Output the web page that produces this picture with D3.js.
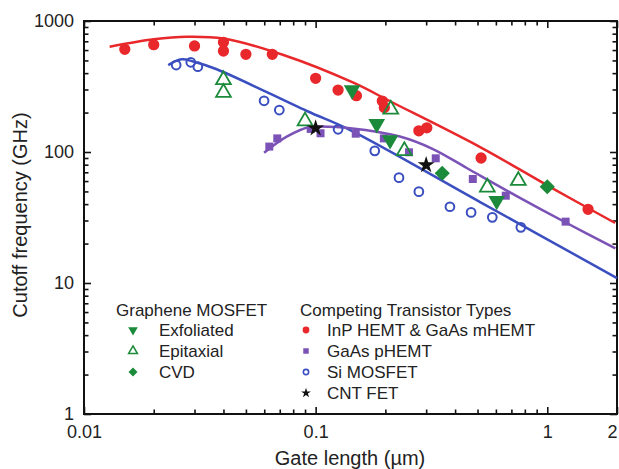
<!DOCTYPE html>
<html>
<head>
<meta charset="utf-8">
<script src="https://cdn.jsdelivr.net/npm/d3@7"></script>
<style>
  body { margin: 0; background: #fff; }
  svg text { font-family: "Liberation Sans", Arial, sans-serif; fill: #222; }
</style>
</head>
<body>
<div id="wrapper"></div>
<script>
// data: gate length (um) vs cutoff frequency (GHz)
const inpX = [0.015, 0.02, 0.03, 0.04, 0.04, 0.05, 0.065, 0.1, 0.125, 0.15, 0.194, 0.198, 0.279, 0.302, 0.518, 1.5];
const inpY = [608, 659, 645, 688, 590, 557, 557, 365, 297, 269, 245, 219, 145, 153, 90, 36.5];
const phemtX = [0.0631, 0.0683, 0.0952, 0.105, 0.149, 0.197, 0.253, 0.33, 0.477, 0.662, 1.2];
const phemtY = [110, 127, 150, 139, 138, 127, 99.5, 89.5, 62.2, 46.4, 29.4];
const siX = [0.025, 0.0289, 0.031, 0.0599, 0.0697, 0.125, 0.18, 0.229, 0.279, 0.38, 0.469, 0.579, 0.769];
const siY = [461, 484, 448, 246, 209, 149, 102, 63.7, 49.8, 38.2, 34.6, 31.7, 26.6];
const cntX = [0.1, 0.3];
const cntY = [152, 79.6];
const exfX = [0.1437, 0.1836, 0.2096, 0.605];
const exfY = [297, 164, 123.5, 42.5];
const epiX = [0.04, 0.04, 0.09, 0.211, 0.2415, 0.551, 0.75];
const epiY = [355, 284, 172, 212, 102, 53.8, 60.4];
const cvdX = [0.352, 1.0];
const cvdY = [68.8, 54.3];

// trend curves
const inpFitX = [0.0129, 0.02, 0.0278, 0.04, 0.0726, 0.1455, 0.2095, 0.513, 1.049, 1.963];
const inpFitY = [637, 725, 759, 735, 550, 338, 244, 109, 53, 28.7];
const siFitX = [0.0231, 0.0264, 0.0296, 0.0374, 0.0916, 0.141, 0.513, 2.0];
const siFitY = [461, 510, 491, 428, 205.6, 147, 41.5, 10.9];
const phemtFitX = [0.0599, 0.075, 0.0946, 0.1045, 0.141, 0.231, 0.321, 0.449, 0.738, 1.213, 1.969];
const phemtFitY = [98.8, 131, 156, 156.6, 152, 131.3, 105.4, 75.5, 46.1, 28.7, 18.4];

const xTicks = [0.01, 0.1, 1, 2];
const xTickLabels = ["0.01", "0.1", "1", "2"];
const yTicks = [1, 10, 100, 1000];

const red = "#e8282a", purple = "#7b52b6", blue = "#3b4fc0", green = "#1b8a3a";

const width = 619, height = 469;
const dimension = { left: 84, right: 617, top: 21, bottom: 414 };

const svg = d3.select("#wrapper").append("svg")
    .attr("width", width)
    .attr("height", height);

const xScaler = d3.scaleLog().domain([0.01, 2]).range([dimension.left, dimension.right]);
const yScaler = d3.scaleLog().domain([1, 1000]).range([dimension.bottom, dimension.top]);

// minor ticks
const xMinor = [];
[0.01, 0.1, 1].forEach(d => { for (let k = 2; k <= 9; k++) if (d * k < 2) xMinor.push(d * k); });
const yMinor = [];
[1, 10, 100].forEach(d => { for (let k = 2; k <= 9; k++) yMinor.push(d * k); });

function tickAxis(gen, tx, ty, values, size, labels) {
    const g = svg.append("g")
        .attr("transform", `translate(${tx},${ty})`)
        .call(gen.tickValues(values).tickSize(size).tickSizeOuter(0).tickFormat(labels ? (d, i) => labels[i] : ""));
    g.select(".domain").remove();
    g.selectAll("line").attr("stroke", "#111").attr("stroke-width", 1.6);
    return g;
}

// bottom / top
const xAx = tickAxis(d3.axisBottom(xScaler).tickPadding(11), 0, dimension.bottom, xTicks, -7, xTickLabels);
tickAxis(d3.axisBottom(xScaler), 0, dimension.bottom, xMinor, -4.5);
tickAxis(d3.axisTop(xScaler), 0, dimension.top, xTicks, -7);
tickAxis(d3.axisTop(xScaler), 0, dimension.top, xMinor, -4.5);
// left / right
const yAx = tickAxis(d3.axisLeft(yScaler).tickPadding(10), dimension.left, 0, yTicks, -7, yTicks.map(String));
tickAxis(d3.axisLeft(yScaler), dimension.left, 0, yMinor, -4.5);
tickAxis(d3.axisRight(yScaler), dimension.right, 0, yTicks, -7);
tickAxis(d3.axisRight(yScaler), dimension.right, 0, yMinor, -4.5);

xAx.selectAll("text").attr("font-size", "18px").attr("fill", "#222")
    .filter(d => d === 2).attr("dx", -5);
yAx.selectAll("text").attr("font-size", "18px").attr("fill", "#222");

// frame
svg.append("rect")
    .attr("x", dimension.left)
    .attr("y", dimension.top)
    .attr("width", dimension.right - dimension.left)
    .attr("height", dimension.bottom - dimension.top)
    .attr("fill", "none")
    .attr("stroke", "#111")
    .attr("stroke-width", 2);

// curves
const lineGen = d3.line()
    .x(d => xScaler(d[0]))
    .y(d => yScaler(d[1]))
    .curve(d3.curveCatmullRom.alpha(0.5));

const zip = (a, b) => a.map((d, i) => [d, b[i]]);

[[inpFitX, inpFitY, red], [siFitX, siFitY, blue], [phemtFitX, phemtFitY, purple]].forEach(([xs, ys, c]) => {
    svg.append("path")
        .attr("d", lineGen(zip(xs, ys)))
        .attr("fill", "none")
        .attr("stroke", c)
        .attr("stroke-width", 2.5);
});

// markers
function drawPoints(xs, ys, type, size, fill, stroke, sw, rot) {
    const sym = d3.symbol().type(type).size(size);
    svg.append("g").selectAll("path")
        .data(zip(xs, ys))
        .join("path")
        .attr("d", sym)
        .attr("transform", d => `translate(${xScaler(d[0])},${yScaler(d[1])})` + (rot ? ` rotate(${rot})` : ""))
        .attr("fill", fill)
        .attr("stroke", stroke)
        .attr("stroke-width", sw);
}

drawPoints(inpX, inpY, d3.symbolCircle, 100, red, "none", 0);
drawPoints(phemtX, phemtY, d3.symbolSquare, 64, purple, "none", 0);
drawPoints(siX, siY, d3.symbolCircle, 60, "none", blue, 2);
drawPoints(epiX, epiY, d3.symbolTriangle, 95, "none", green, 1.8);
drawPoints(exfX, exfY, d3.symbolTriangle, 120, green, "none", 0, 180);
drawPoints(cvdX, cvdY, d3.symbolSquare, 115, green, "none", 0, 45);
drawPoints(cntX, cntY, d3.symbolStar, 90, "#111", "none", 0);

// axis titles
svg.append("text")
    .attr("x", 350)
    .attr("y", 465)
    .attr("text-anchor", "middle")
    .attr("font-size", "20px")
    .text("Gate length (\u00b5m)");

svg.append("text")
    .attr("transform", "translate(27,215) rotate(-90)")
    .attr("text-anchor", "middle")
    .attr("font-size", "20px")
    .text("Cutoff frequency (GHz)");

// legend
const legend = svg.append("g").attr("font-size", "17px");
legend.append("text").attr("x", 116).attr("y", 316).text("Graphene MOSFET");
legend.append("text").attr("x", 300).attr("y", 316).text("Competing Transistor Types");

const legLeft = [
    ["Exfoliated", d3.symbolTriangle, 40, green, "none", 0, 180],
    ["Epitaxial", d3.symbolTriangle, 34, "none", green, 1.5, 0],
    ["CVD", d3.symbolSquare, 40, green, "none", 0, 45]
];
const legRight = [
    ["InP HEMT & GaAs mHEMT", d3.symbolCircle, 36, red, "none", 0, 0],
    ["GaAs pHEMT", d3.symbolSquare, 30, purple, "none", 0, 0],
    ["Si MOSFET", d3.symbolCircle, 22, "none", blue, 1.6, 0],
    ["CNT FET", d3.symbolStar, 30, "#111", "none", 0, 0]
];
function legendRows(rows, mx, tx) {
    rows.forEach((r, i) => {
        const y = 330 + i * 21;
        legend.append("path")
            .attr("d", d3.symbol().type(r[1]).size(r[2]))
            .attr("transform", `translate(${mx},${y})` + (r[6] ? ` rotate(${r[6]})` : ""))
            .attr("fill", r[3])
            .attr("stroke", r[4])
            .attr("stroke-width", r[5]);
        legend.append("text").attr("x", tx).attr("y", y + 6).text(r[0]);
    });
}
legendRows(legLeft, 133, 159);
legendRows(legRight, 306, 327);
</script>
</body>
</html>
